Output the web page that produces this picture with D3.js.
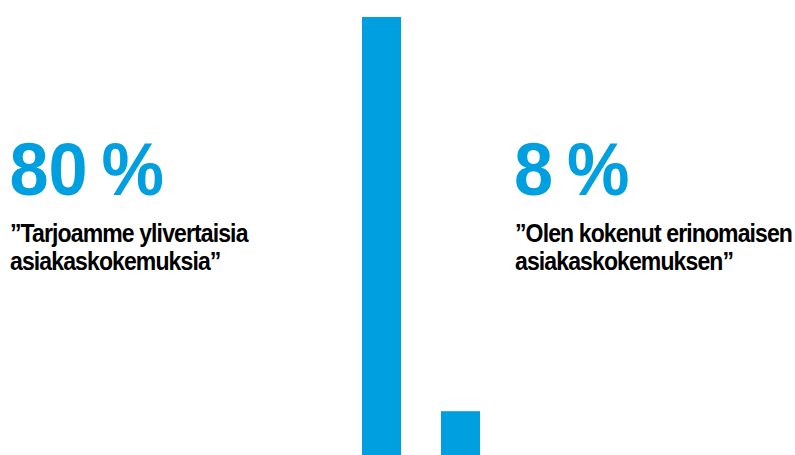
<!DOCTYPE html>
<html>
<head>
<meta charset="utf-8">
<script src="https://cdn.jsdelivr.net/npm/d3@7"></script>
<style>
  html, body { margin: 0; padding: 0; background: #fff; }
  svg { display: block; }
  text { font-family: "Liberation Sans", Arial, Helvetica, sans-serif; font-weight: bold; }
</style>
</head>
<body>
<svg id="chart" width="795" height="455"></svg>
<script>
// Share of respondents for each statement
const categories = ["Tarjoamme ylivertaisia asiakaskokemuksia", "Olen kokenut erinomaisen asiakaskokemuksen"];
const values = [80, 8];
const valueLabels = ["80 %", "8 %"];
const quoteLines = [
  ["\u201DTarjoamme ylivertaisia", "asiakaskokemuksia\u201D"],
  ["\u201DOlen kokenut erinomaisen", "asiakaskokemuksen\u201D"]
];

const blue = "#009fdf";
const W = 795, H = 455;
const svg = d3.select("#chart");

// Two narrow columns side by side in the middle of the page
const x = d3.scaleBand()
  .domain(categories)
  .range([362, 480])
  .paddingInner(0.506)
  .paddingOuter(0);

const y = d3.scaleLinear().domain([0, 80]).range([H, 17]);

svg.selectAll("rect.bar")
  .data(values)
  .join("rect")
  .attr("class", "bar")
  .attr("x", (d, i) => x(categories[i]))
  .attr("y", d => y(d))
  .attr("width", x.bandwidth())
  .attr("height", d => H - y(d))
  .attr("fill", blue);

// Value and statement labels beside the bars
const labelX = [9.5, 514];
const quoteX = [10, 515];

values.forEach((v, i) => {
  svg.append("text")
    .attr("transform", `translate(${labelX[i]},195) scale(0.95,1)`)
    .attr("font-size", 74)
    .attr("word-spacing", -6)
    .attr("fill", blue)
    .text(valueLabels[i]);

  const t = svg.append("text")
    .attr("transform", `translate(${quoteX[i]},0) scale(0.885,1)`)
    .attr("font-size", 26)
    .attr("letter-spacing", -1)
    .attr("fill", "#000");
  t.selectAll("tspan")
    .data(quoteLines[i])
    .join("tspan")
    .attr("x", 0)
    .attr("y", (s, j) => 242.5 + j * 28)
    .text(s => s);
});
</script>
</body>
</html>
